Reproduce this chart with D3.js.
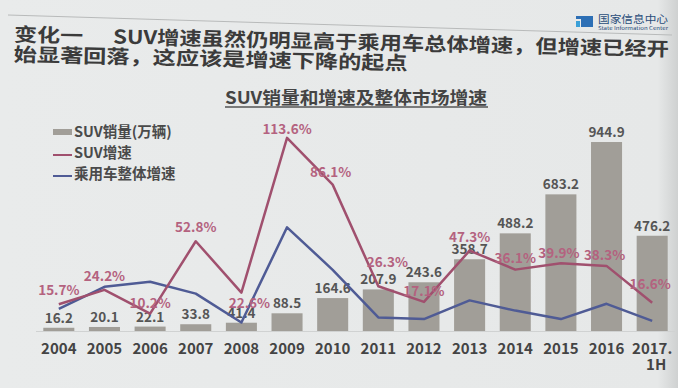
<!DOCTYPE html>
<html>
<head>
<meta charset="utf-8">
<script src="https://cdn.jsdelivr.net/npm/d3@7"></script>
<style>
  html, body { margin: 0; padding: 0; background: #e8eaea; }
  svg { display: block; font-family: "Noto Sans CJK SC", "Noto Sans", sans-serif; }
</style>
</head>
<body>
<div id="chart"></div>
<script>
// data
var years = ["2004","2005","2006","2007","2008","2009","2010","2011","2012","2013","2014","2015","2016","2017."];
var suvSales = [16.2, 20.1, 22.1, 33.8, 41.4, 88.5, 164.6, 207.9, 243.6, 358.7, 488.2, 683.2, 944.9, 476.2];
var suvGrowth = [15.7, 24.2, 10.2, 52.8, 22.6, 113.6, 86.1, 26.3, 17.1, 47.3, 36.1, 39.9, 38.3, 16.6];
var marketGrowth = [13, 26, 29, 22, 5, 61, 36, 8, 7, 18, 12, 7, 16, 6];
var legendNames = ["SUV销量(万辆)", "SUV增速", "乘用车整体增速"];

// label nudges for the % labels (placement only)
var pctDx = [0, 0, 0, 0, 8, 0, -2, 9, 0, 0, 0, -2, -2, -2];
var pctDy = [-14, -14, -11, -14, 10, -9, -13, -24, -11, -14, -12, -10, -11, -19];

var W = 678, H = 388;
var barColor = "#a19e98", suvColor = "#a0506e", mktColor = "#4f5b95";
var pctText = "#b4627f", valText = "#555", darkText = "#3b3b3b";

var svg = d3.select("#chart").append("svg").attr("width", W).attr("height", H);

var defs = svg.append("defs");
var bg = defs.append("linearGradient").attr("id", "bg").attr("x1", 0).attr("y1", 0).attr("x2", 1).attr("y2", 0);
bg.append("stop").attr("offset", "0%").attr("stop-color", "#e9ebeb");
bg.append("stop").attr("offset", "97%").attr("stop-color", "#e6e8e8");
bg.append("stop").attr("offset", "100%").attr("stop-color", "#cfd1d1");
svg.append("rect").attr("width", W).attr("height", H).attr("fill", "url(#bg)");

// slanted rule above heading (the slide was photographed at a slight angle)
svg.append("line").attr("x1", 8).attr("y1", 15).attr("x2", 672).attr("y2", 35)
  .attr("stroke", "#b8baba").attr("stroke-width", 1);

// logo top right
svg.append("rect").attr("x", 576).attr("y", 16).attr("width", 17).attr("height", 11).attr("fill", "#2d6fb5");
svg.append("rect").attr("x", 576).attr("y", 19).attr("width", 5).attr("height", 8).attr("fill", "#e8eaea");
svg.append("rect").attr("x", 576).attr("y", 21).attr("width", 4).attr("height", 6).attr("fill", "#3aa0d8");
svg.append("text").attr("x", 598).attr("y", 23).attr("font-size", 10.5).attr("fill", "#2a4d7a")
  .attr("textLength", 70).attr("lengthAdjust", "spacingAndGlyphs").text("国家信息中心");
svg.append("text").attr("x", 598).attr("y", 30).attr("font-size", 4.5).attr("fill", "#2a4d7a")
  .attr("textLength", 70).attr("lengthAdjust", "spacingAndGlyphs").text("State Information Center");

// heading
var head = svg.append("g").attr("font-weight", "bold").attr("fill", darkText).attr("font-size", 19)
  .attr("transform", "rotate(1.3, 8, 41)");
head.append("text").attr("x", 14).attr("y", 41).attr("textLength", 69).attr("lengthAdjust", "spacingAndGlyphs").text("变化一");
head.append("text").attr("x", 113).attr("y", 41).attr("textLength", 556).attr("lengthAdjust", "spacingAndGlyphs")
  .text("SUV增速虽然仍明显高于乘用车总体增速，但增速已经开");
head.append("text").attr("x", 14).attr("y", 61).attr("textLength", 394).attr("lengthAdjust", "spacingAndGlyphs")
  .text("始显著回落，这应该是增速下降的起点");

// chart title
svg.append("text").attr("x", 356).attr("y", 104).attr("text-anchor", "middle")
  .attr("font-size", 17).attr("font-weight", "bold").attr("fill", "#444")
  .attr("textLength", 262).attr("lengthAdjust", "spacingAndGlyphs")
  .text("SUV销量和增速及整体市场增速");
svg.append("line").attr("x1", 225).attr("x2", 488).attr("y1", 107).attr("y2", 107)
  .attr("stroke", "#555").attr("stroke-width", 1.5);

// scales
var x = d3.scaleBand().domain(years).range([36, 675]).paddingInner(0.32).paddingOuter(0.16);
var yBar = d3.scaleLinear().domain([0, 1000]).range([331, 131]);
var yPct = d3.scaleLinear().domain([0, 120]).range([331, 127]);
var cx = function(d, i) { return x(years[i]) + x.bandwidth() / 2; };

// baseline
svg.append("line").attr("x1", 36).attr("x2", 675).attr("y1", yBar(0) + 0.5).attr("y2", yBar(0) + 0.5)
  .attr("stroke", "#d0d2d2").attr("stroke-width", 1);

// bars
svg.selectAll(".bar").data(suvSales).enter().append("rect")
  .attr("class", "bar")
  .attr("x", (d, i) => x(years[i]))
  .attr("y", d => yBar(d))
  .attr("width", x.bandwidth())
  .attr("height", d => yBar(0) - yBar(d))
  .attr("fill", barColor);

// bar values
svg.selectAll(".val").data(suvSales).enter().append("text")
  .attr("class", "val")
  .attr("x", cx)
  .attr("y", d => yBar(d) - 5)
  .attr("text-anchor", "middle")
  .attr("font-size", 13.5).attr("font-weight", "bold").attr("fill", valText)
  .text(d => d.toFixed(1));

// lines
var lineGen = d3.line().x(cx).y(d => yPct(d));
svg.append("path").datum(marketGrowth).attr("d", lineGen)
  .attr("fill", "none").attr("stroke", mktColor).attr("stroke-width", 2.5).attr("stroke-linejoin", "round");
svg.append("path").datum(suvGrowth).attr("d", lineGen)
  .attr("fill", "none").attr("stroke", suvColor).attr("stroke-width", 2.5).attr("stroke-linejoin", "round");

// % labels
svg.selectAll(".pct").data(suvGrowth).enter().append("text")
  .attr("class", "pct")
  .attr("x", (d, i) => cx(d, i) + pctDx[i])
  .attr("y", (d, i) => yPct(d) + pctDy[i] + 5)
  .attr("text-anchor", "middle")
  .attr("font-size", 13.5).attr("font-weight", "bold").attr("fill", pctText)
  .text(d => d.toFixed(1) + "%");

// x labels
svg.selectAll(".xl").data(years).enter().append("text")
  .attr("class", "xl")
  .attr("x", (d, i) => cx(d, i))
  .attr("y", 354)
  .attr("text-anchor", "middle")
  .attr("font-size", 15).attr("font-weight", "bold").attr("fill", "#444")
  .text(d => d);
svg.append("text").attr("x", cx(null, years.length - 1) + 4).attr("y", 370)
  .attr("text-anchor", "middle").attr("font-size", 15).attr("font-weight", "bold").attr("fill", "#444")
  .text("1H");

// legend
var lg = svg.append("g").attr("font-size", 14.5).attr("font-weight", "bold").attr("fill", "#4a4a4a");
lg.append("rect").attr("x", 53).attr("y", 129).attr("width", 19).attr("height", 6).attr("fill", barColor);
lg.append("line").attr("x1", 53).attr("x2", 72).attr("y1", 155).attr("y2", 155).attr("stroke", suvColor).attr("stroke-width", 2);
lg.append("line").attr("x1", 53).attr("x2", 72).attr("y1", 176).attr("y2", 176).attr("stroke", mktColor).attr("stroke-width", 2);
lg.selectAll("text").data(legendNames).enter().append("text")
  .attr("x", 74)
  .attr("y", (d, i) => 137 + i * 21)
  .text(d => d);
</script>
</body>
</html>
